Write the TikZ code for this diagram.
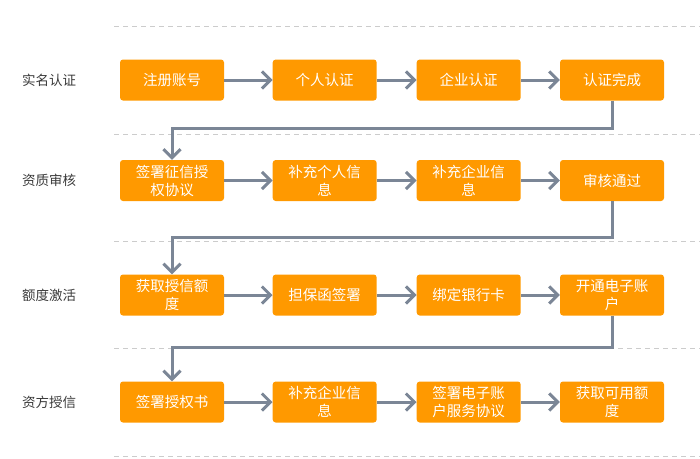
\documentclass[tikz,border=0pt]{standalone}
\usepackage{fontspec}
\usepackage{xcolor}
\usetikzlibrary{arrows.meta, positioning, calc}
\newfontfamily\cjk{Noto Sans CJK SC}

\definecolor{boxorange}{HTML}{FF9900}
\definecolor{flowgray}{HTML}{7B8696}
\definecolor{sepgray}{HTML}{CCCCCC}
\definecolor{labelgray}{HTML}{3A3A3A}

\tikzset{
  stepbox/.style={rectangle, rounded corners=3pt, fill=boxorange, text=white,
    minimum width=104pt, minimum height=41pt, inner sep=0pt, align=center,
    font=\cjk\fontsize{14.5}{18}\selectfont},
  rowlabel/.style={text=labelgray, font=\cjk\fontsize{13.5}{16}\selectfont},
  flow/.style={draw=flowgray, line width=3pt,
    -{Straight Barb[length=8.5pt,width=17pt,line width=3pt]}},
  sepline/.style={draw=sepgray, line width=1pt, dash pattern=on 5pt off 4pt}
}

\begin{document}
\begin{tikzpicture}[x=1pt, y=-1pt]
\useasboundingbox (0,0) rectangle (700,458);

% Separators between the stages
\foreach \y in {26,134,241.5,348,456} {
    \draw[sepline] (114,\y) -- (700,\y);
}

% Stage labels (left)
\node[rowlabel] (lab1) at (49,80) {实名认证};
\node[rowlabel] (lab2) at (49,180.5) {资质审核};
\node[rowlabel] (lab3) at (49,295) {额度激活};
\node[rowlabel] (lab4) at (49,402) {资方授信};

% Stage 1
\foreach \txt [count=\c] in {注册账号, 个人认证, 企业认证, 认证完成} {
    \pgfmathsetmacro{\cx}{{172,324.7,468.7,612}[\c-1]}
    \node[stepbox] (s1c\c) at (\cx,80) {\txt};
}

% Stage 2
\foreach \txt [count=\c] in {{签署征信授\\权协议}, {补充个人信\\息}, {补充企业信\\息}, 审核通过} {
    \pgfmathsetmacro{\cx}{{172,324.7,468.7,612}[\c-1]}
    \node[stepbox] (s2c\c) at (\cx,180.5) {\txt};
}

% Stage 3
\foreach \txt [count=\c] in {{获取授信额\\度}, 担保函签署, 绑定银行卡, {开通电子账\\户}} {
    \pgfmathsetmacro{\cx}{{172,324.7,468.7,612}[\c-1]}
    \node[stepbox] (s3c\c) at (\cx,295) {\txt};
}

% Stage 4
\foreach \txt [count=\c] in {签署授权书, {补充企业信\\息}, {签署电子账\\户服务协议}, {获取可用额\\度}} {
    \pgfmathsetmacro{\cx}{{172,324.7,468.7,612}[\c-1]}
    \node[stepbox] (s4c\c) at (\cx,402) {\txt};
}

% Arrows within each stage
\foreach \r in {1,...,4} {
    \foreach \c [evaluate=\c as \n using int(\c+1)] in {1,2,3} {
        \draw[flow] (s\r c\c.east) -- (s\r c\n.west);
    }
}

% Arrows from one stage to the next
\draw[flow] (s1c4.south) -- (s1c4.south |- 0,128) -| (s2c1.north);
\draw[flow] (s2c4.south) -- (s2c4.south |- 0,237) -| (s3c1.north);
\draw[flow] (s3c4.south) -- (s3c4.south |- 0,347) -| (s4c1.north);
\end{tikzpicture}
\end{document}
